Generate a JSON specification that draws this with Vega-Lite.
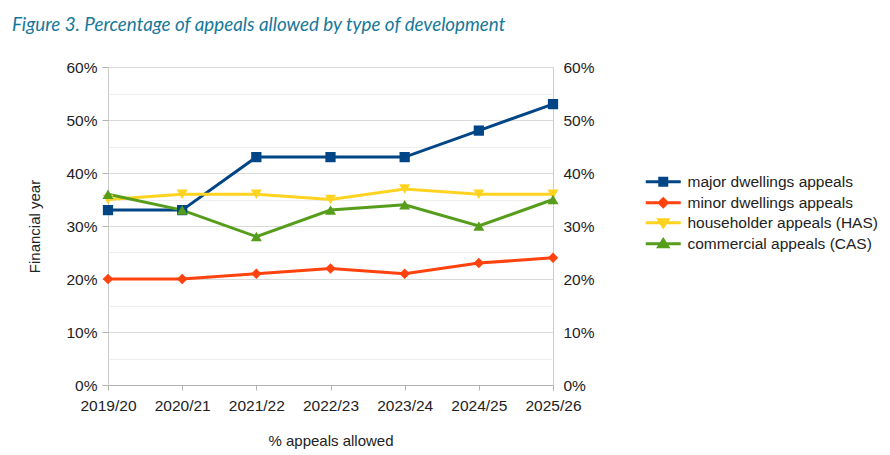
{
  "$schema": "https://vega.github.io/schema/vega-lite/v6.json",
  "width": 445,
  "height": 318,
  "autosize": {"type": "none"},
  "padding": {"left": 108, "top": 67, "right": 337, "bottom": 70},
  "background": "white",
  "title": {
    "text": "Figure 3. Percentage of appeals allowed by type of development",
    "anchor": "start",
    "frame": "group",
    "font": "Lato",
    "fontStyle": "italic",
    "fontWeight": "normal",
    "fontSize": 18.8,
    "color": "#16789a",
    "baseline": "alphabetic",
    "dx": -96,
    "offset": 10
  },
  "data": {
    "values": [
      {"year": "2019/20", "series": "major dwellings appeals", "value": 33},
      {"year": "2020/21", "series": "major dwellings appeals", "value": 33},
      {"year": "2021/22", "series": "major dwellings appeals", "value": 43},
      {"year": "2022/23", "series": "major dwellings appeals", "value": 43},
      {"year": "2023/24", "series": "major dwellings appeals", "value": 43},
      {"year": "2024/25", "series": "major dwellings appeals", "value": 48},
      {"year": "2025/26", "series": "major dwellings appeals", "value": 53},
      {"year": "2019/20", "series": "minor dwellings appeals", "value": 20},
      {"year": "2020/21", "series": "minor dwellings appeals", "value": 20},
      {"year": "2021/22", "series": "minor dwellings appeals", "value": 21},
      {"year": "2022/23", "series": "minor dwellings appeals", "value": 22},
      {"year": "2023/24", "series": "minor dwellings appeals", "value": 21},
      {"year": "2024/25", "series": "minor dwellings appeals", "value": 23},
      {"year": "2025/26", "series": "minor dwellings appeals", "value": 24},
      {"year": "2019/20", "series": "householder appeals (HAS)", "value": 35},
      {"year": "2020/21", "series": "householder appeals (HAS)", "value": 36},
      {"year": "2021/22", "series": "householder appeals (HAS)", "value": 36},
      {"year": "2022/23", "series": "householder appeals (HAS)", "value": 35},
      {"year": "2023/24", "series": "householder appeals (HAS)", "value": 37},
      {"year": "2024/25", "series": "householder appeals (HAS)", "value": 36},
      {"year": "2025/26", "series": "householder appeals (HAS)", "value": 36},
      {"year": "2019/20", "series": "commercial appeals (CAS)", "value": 36},
      {"year": "2020/21", "series": "commercial appeals (CAS)", "value": 33},
      {"year": "2021/22", "series": "commercial appeals (CAS)", "value": 28},
      {"year": "2022/23", "series": "commercial appeals (CAS)", "value": 33},
      {"year": "2023/24", "series": "commercial appeals (CAS)", "value": 34},
      {"year": "2024/25", "series": "commercial appeals (CAS)", "value": 30},
      {"year": "2025/26", "series": "commercial appeals (CAS)", "value": 35}
    ]
  },
  "encoding": {
    "x": {
      "field": "year",
      "type": "ordinal",
      "scale": {"type": "point", "padding": 0},
      "axis": {
        "title": "% appeals allowed",
        "labelAngle": 0,
        "tickSize": 5,
        "labelPadding": 8,
        "titlePadding": 20,
        "domainColor": "#b3b3b3",
        "tickColor": "#b3b3b3",
        "grid": false
      }
    },
    "color": {
      "field": "series",
      "type": "nominal",
      "title": null,
      "scale": {
        "domain": ["major dwellings appeals", "minor dwellings appeals", "householder appeals (HAS)", "commercial appeals (CAS)"],
        "range": ["#004586", "#ff420e", "#ffd320", "#579d1c"]
      },
      "legend": {
        "orient": "none",
        "legendX": 535,
        "legendY": 107,
        "symbolSize": 100,
        "symbolOpacity": 1,
        "symbolStrokeWidth": 3,
        "labelOffset": 29,
        "rowPadding": 0,
        "labelFontSize": 15.5,
        "labelLimit": 400,
        "labelColor": "#222222",
        "encode": {
          "symbols": {
            "update": {
              "shape": {"signal": "datum.value === 'major dwellings appeals' ? 'M-1,0H6M1.8,-0.7H3.2V0.7H1.8Z' : datum.value === 'minor dwellings appeals' ? 'M-1,0H6M2.5,-0.8L3.3,0L2.5,0.8L1.7,0Z' : datum.value === 'householder appeals (HAS)' ? 'M-1,0H6M1.6,-0.6H3.4L2.5,0.8Z' : 'M-1,0H6M1.6,0.6H3.4L2.5,-0.8Z'"},
              "stroke": {"signal": "scale('color', datum.value)"},
              "fill": {"signal": "scale('color', datum.value)"},
              "strokeWidth": {"value": 3},
              "opacity": {"value": 1}
            }
          }
        }
      }
    }
  },
  "layer": [
    {
      "mark": {"type": "line", "strokeWidth": 3},
      "encoding": {
        "y": {
          "field": "value",
          "type": "quantitative",
          "scale": {"domain": [0, 60], "nice": false},
          "axis": {
            "orient": "left",
            "title": "Financial year",
            "titlePadding": 23,
            "values": [0, 5, 10, 15, 20, 25, 30, 35, 40, 45, 50, 55, 60],
            "labelExpr": "datum.value % 10 == 0 ? datum.value + '%' : ''",
            "domain": false,
            "tickSize": 6,
            "labelPadding": 5,
            "tickColor": "#b3b3b3",
            "tickOpacity": {"condition": {"test": "datum.value % 10 != 0", "value": 0}, "value": 1},
            "gridColor": {"condition": {"test": "datum.value % 10 != 0", "value": "#eeeeee"}, "value": "#d9d9d9"},
            "grid": true
          }
        },
        "detail": {"field": "series"}
      }
    },
    {
      "transform": [{"filter": "datum.series === 'major dwellings appeals'"}],
      "mark": {"type": "point", "shape": "square", "filled": true, "size": 105, "opacity": 1},
      "encoding": {
        "y": {
          "field": "value",
          "type": "quantitative",
          "scale": {"domain": [0, 60], "nice": false},
          "axis": {
            "orient": "right",
            "title": null,
            "values": [0, 10, 20, 30, 40, 50, 60],
            "labelExpr": "datum.value + '%'",
            "domain": false,
            "ticks": false,
            "labelPadding": 10,
            "grid": false
          }
        }
      }
    },
    {
      "transform": [{"filter": "datum.series === 'minor dwellings appeals'"}],
      "mark": {"type": "point", "shape": "diamond", "filled": true, "size": 110, "opacity": 1},
      "encoding": {
        "y": {"field": "value", "type": "quantitative", "scale": {"domain": [0, 60], "nice": false}, "axis": null}
      }
    },
    {
      "transform": [{"filter": "datum.series === 'householder appeals (HAS)'"}],
      "mark": {"type": "point", "shape": "triangle-down", "filled": true, "size": 120, "opacity": 1},
      "encoding": {
        "y": {"field": "value", "type": "quantitative", "scale": {"domain": [0, 60], "nice": false}, "axis": null}
      }
    },
    {
      "transform": [{"filter": "datum.series === 'commercial appeals (CAS)'"}],
      "mark": {"type": "point", "shape": "triangle-up", "filled": true, "size": 120, "opacity": 1},
      "encoding": {
        "y": {"field": "value", "type": "quantitative", "scale": {"domain": [0, 60], "nice": false}, "axis": null}
      }
    }
  ],
  "resolve": {"axis": {"y": "independent"}},
  "config": {
    "font": "Liberation Sans",
    "view": {"stroke": "#cccccc"},
    "axis": {
      "labelFont": "Liberation Sans",
      "labelFontSize": 15.5,
      "labelColor": "#222222",
      "titleFont": "Liberation Sans",
      "titleFontSize": 15,
      "titleFontWeight": "normal",
      "titleColor": "#222222"
    },
    "legend": {"labelFont": "Liberation Sans"}
  }
}
